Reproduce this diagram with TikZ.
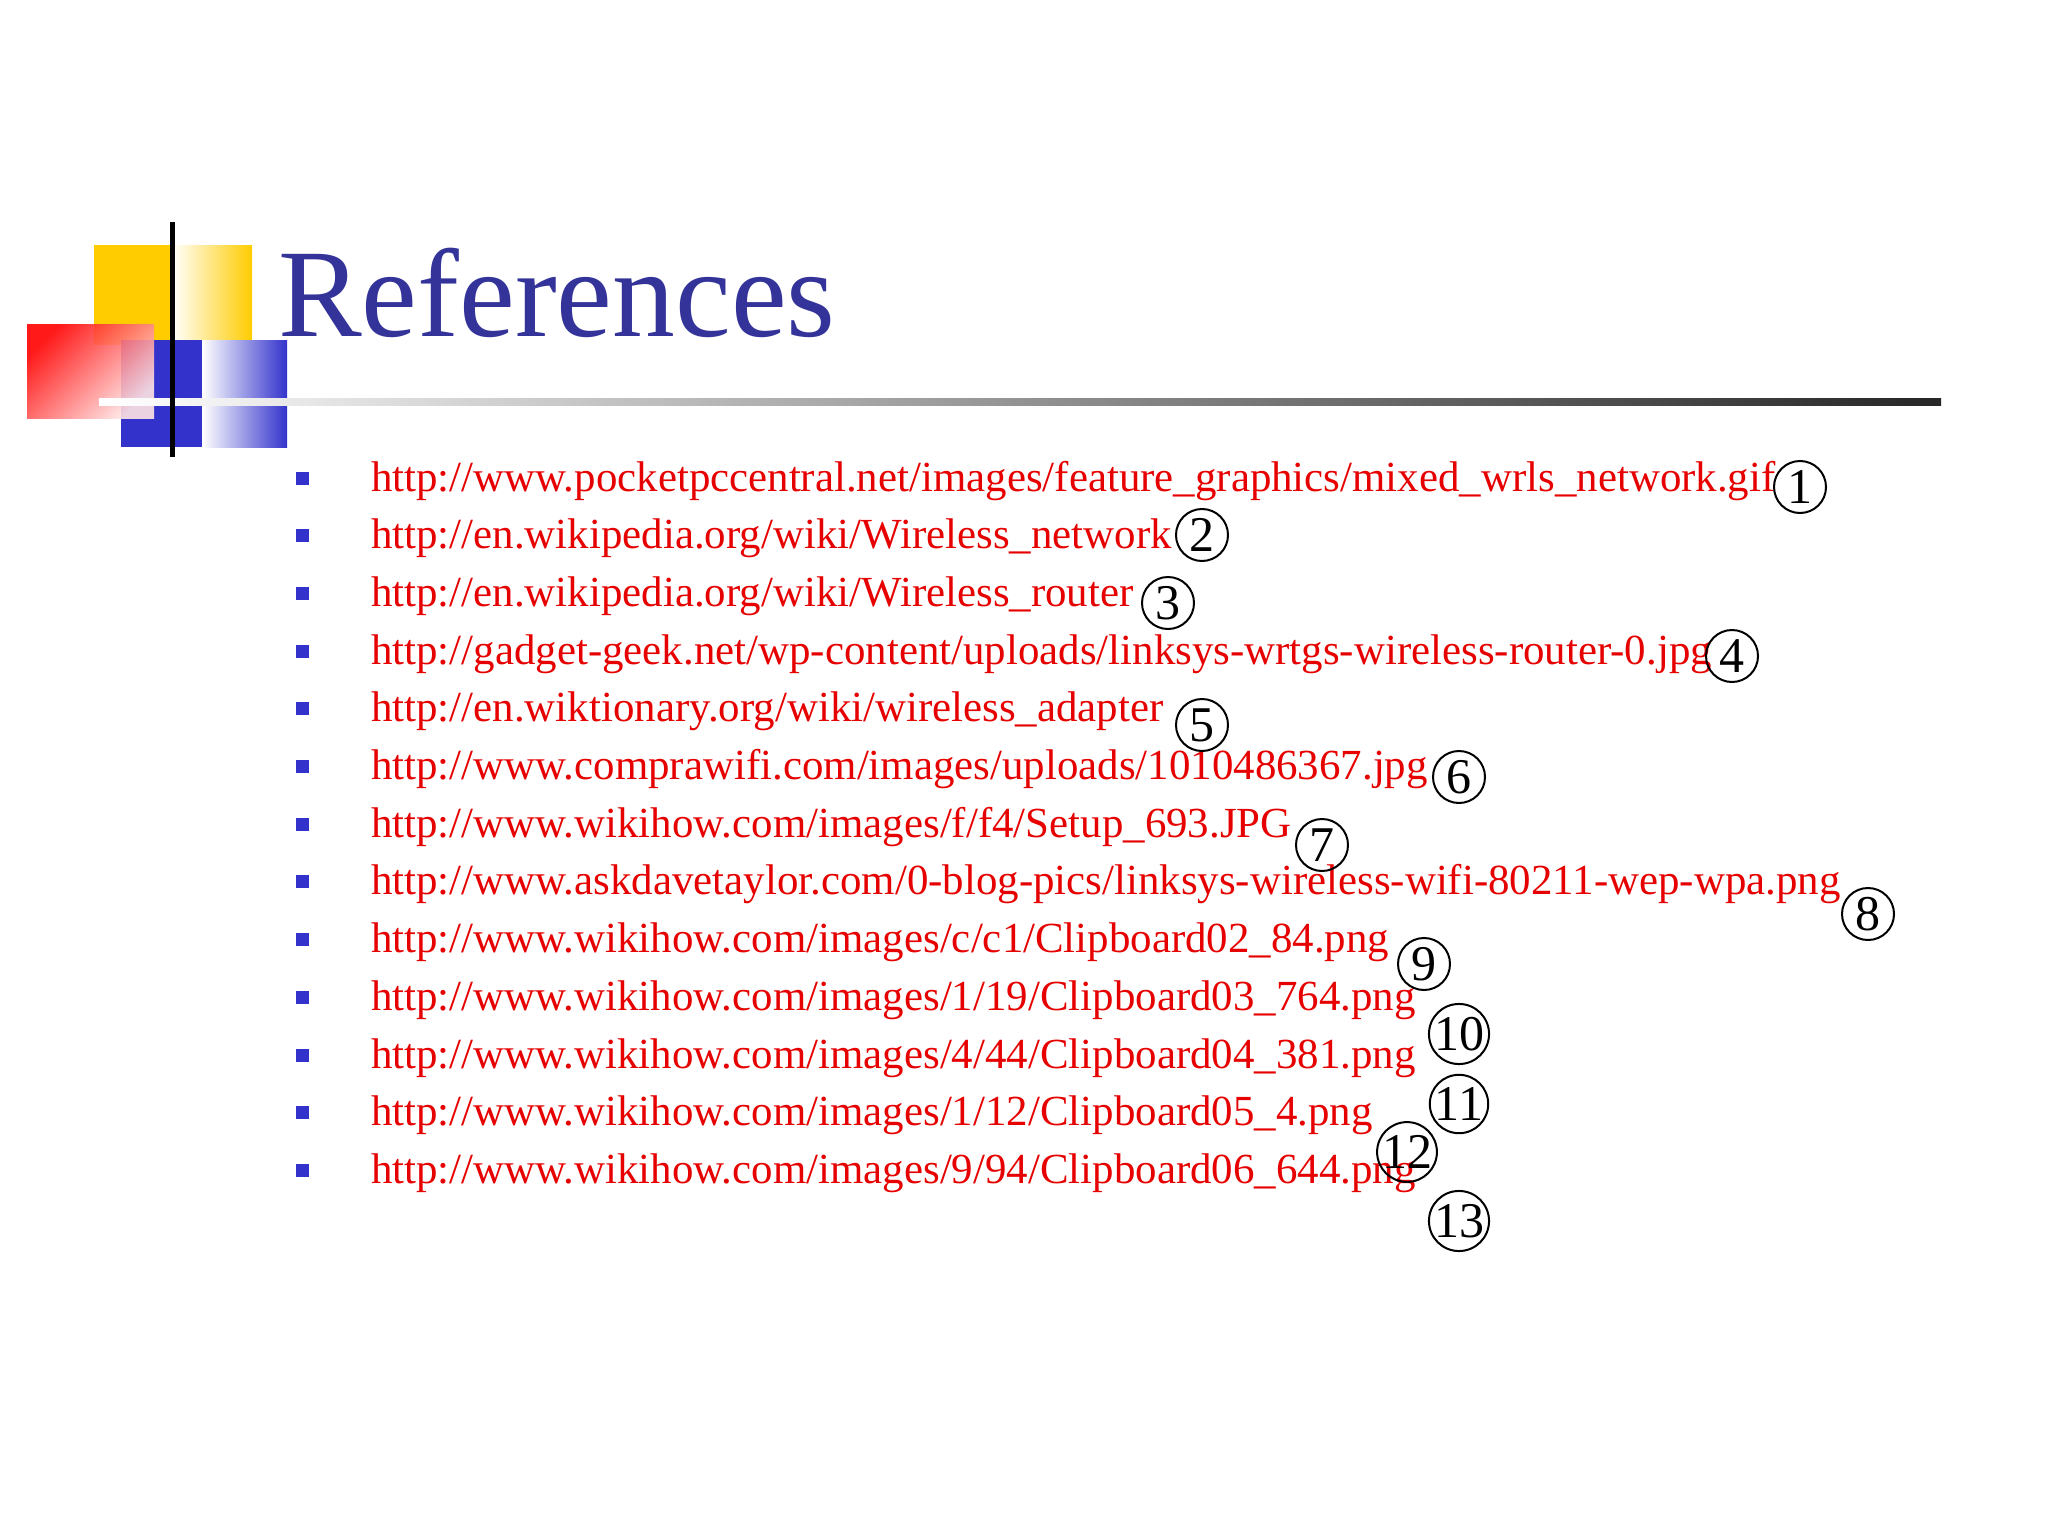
\documentclass[tikz,border=0pt]{standalone}
\usepackage{fontspec}
\setmainfont{Liberation Serif}
\definecolor{tblue}{RGB}{51,51,153}
\definecolor{bblue}{RGB}{51,51,204}
\definecolor{gold}{RGB}{255,204,0}
\definecolor{url}{RGB}{230,0,0}
\begin{document}
\begin{tikzpicture}[x=1pt,y=-1pt,
  urltext/.style={anchor=base west,text=url,font=\fontsize{42.9}{43}\selectfont,inner sep=0},
  bul/.style={fill=bblue,minimum size=13,inner sep=0},
  num/.style={circle,draw,line width=2,minimum size=52,inner sep=0,font=\fontsize{50}{50}\selectfont}]
\useasboundingbox (0,0) rectangle (2048,1536);
% logo
\fill[gold] (94,245) rectangle (172,345);
\shade[left color=white,right color=gold] (172,245) rectangle (252,345);
\fill[bblue] (121,340) rectangle (202,447);
\shade[left color=white,right color=bblue] (202,340) rectangle (287,447);
\shade[left color=red,right color=red!10,shading angle=45,opacity=0.9] (27,324) rectangle (154,418);
\shade[left color=white,right color=black!85] (99,398) rectangle (1941,405);
\fill[black] (170,222) rectangle (175,457);
\node[anchor=base west,text=tblue,font=\fontsize{125.5}{126}\selectfont,inner sep=0] (title) at (278,336) {References};
\foreach \i/\u in {0/{http://www.pocketpccentral.net/images/feature\_graphics/mixed\_wrls\_network.gif},
1/{http://en.wikipedia.org/wiki/Wireless\_network},
2/{http://en.wikipedia.org/wiki/Wireless\_router},
3/{http://gadget-geek.net/wp-content/uploads/linksys-wrtgs-wireless-router-0.jpg},
4/{http://en.wiktionary.org/wiki/wireless\_adapter},
5/{http://www.comprawifi.com/images/uploads/1010486367.jpg},
6/{http://www.wikihow.com/images/f/f4/Setup\_693.JPG},
7/{http://www.askdavetaylor.com/0-blog-pics/linksys-wireless-wifi-80211-wep-wpa.png},
8/{http://www.wikihow.com/images/c/c1/Clipboard02\_84.png},
9/{http://www.wikihow.com/images/1/19/Clipboard03\_764.png},
10/{http://www.wikihow.com/images/4/44/Clipboard04\_381.png},
11/{http://www.wikihow.com/images/1/12/Clipboard05\_4.png},
12/{http://www.wikihow.com/images/9/94/Clipboard06\_644.png}}{
  \node[bul] (b\i) at (302,{478+57.7*\i}) {};
  \node[urltext] (u\i) at (371,{491+57.7*\i}) {\u};
}
\foreach \n/\x/\y in {1/1800/487,2/1202/535,3/1168/603,4/1732/656,5/1202/725,6/1459/777,7/1322/845,8/1868/914,9/1424/964,10/1459/1034,11/1459/1104,12/1407/1152,13/1459/1221}{
  \node[num] (n\n) at (\x,\y) {\n};
}
\end{tikzpicture}
\end{document}
